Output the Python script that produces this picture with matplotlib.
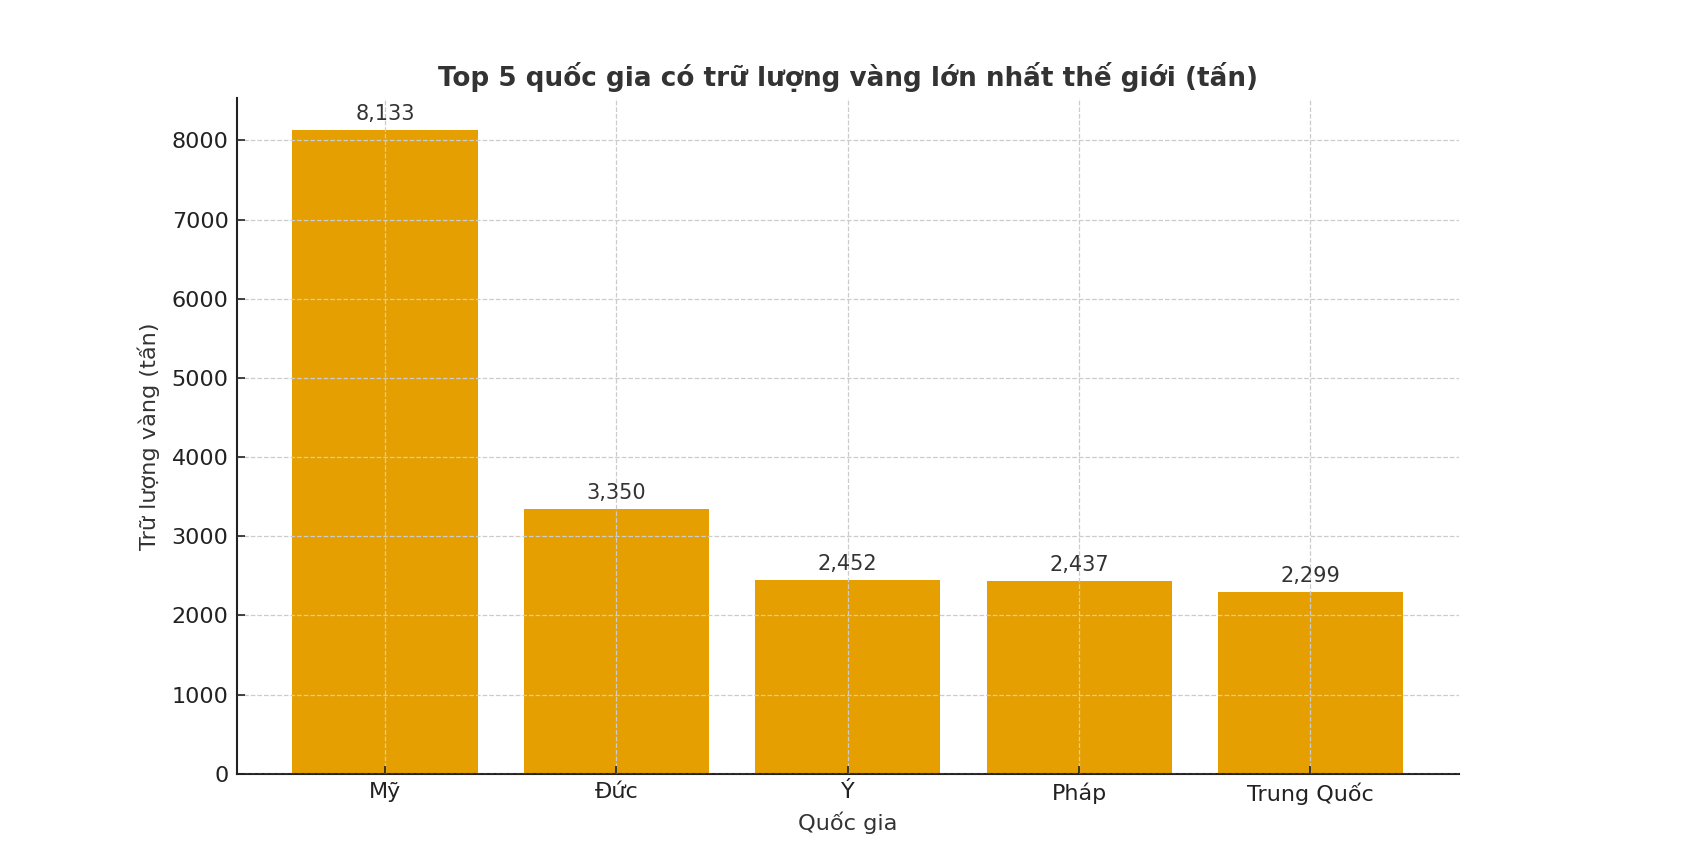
import matplotlib
matplotlib.use("Agg")
import matplotlib.pyplot as plt

# dữ liệu
countries = ["Mỹ", "Đức", "Ý", "Pháp", "Trung Quốc"]
reserves = [8133, 3350, 2452, 2437, 2299]

plt.rcParams['font.family'] = ['DejaVu Sans']
text_color = '#333333'

fig = plt.figure(figsize=(16.92, 8.56), dpi=100)
ax = fig.add_axes([0.140, 0.096, 0.722, 0.790])

bars = ax.bar(countries, reserves, color='#E69F00', width=0.8)

# nhãn giá trị trên cột
for rect, val in zip(bars, reserves):
    ax.annotate(f"{val:,}", (rect.get_x() + rect.get_width() / 2, rect.get_height()),
                xytext=(0, 4), textcoords='offset points', ha='center', va='bottom',
                fontsize=15, color=text_color)

ax.set_title("Top 5 quốc gia có trữ lượng vàng lớn nhất thế giới (tấn)",
             fontsize=18.9, fontweight='bold', color=text_color, pad=8)
ax.set_xlabel("Quốc gia", fontsize=16.2, color=text_color, labelpad=5)
ax.set_ylabel("Trữ lượng vàng (tấn)", fontsize=16.2, color=text_color, labelpad=8)

ax.grid(True, linestyle='--', color='#cccccc', linewidth=0.9)
ax.set_axisbelow(False)
for s in ['top', 'right']:
    ax.spines[s].set_visible(False)
for s in ['left', 'bottom']:
    ax.spines[s].set_color('#222222')
    ax.spines[s].set_linewidth(1.5)
ax.tick_params(axis='both', direction='in', length=6, width=1.2, labelsize=16,
               labelcolor='#222222', colors='#222222', pad=6)

fig.savefig("out.png", dpi=100)
